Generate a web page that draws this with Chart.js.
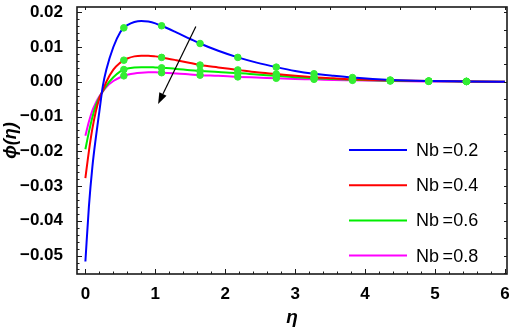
<!DOCTYPE html>
<html>
<head>
<meta charset="utf-8">
<script src="https://cdn.jsdelivr.net/npm/chart.js@4"></script>
<style>
  html, body { margin: 0; padding: 0; background: #fff; }
  #wrap { width: 512px; height: 329px; }
</style>
</head>
<body>
<div id="wrap"><canvas id="chart"></canvas></div>
<script>
// eta values shared by every curve
const etaValues = [0, 0.05, 0.1, 0.15, 0.2, 0.25, 0.3, 0.4, 0.5, 0.55, 0.6, 0.7, 0.8, 0.9, 1.0, 1.09,
    1.3, 1.5, 1.64, 1.9, 2.18, 2.45, 2.73, 3.0, 3.27, 3.55, 3.82, 4.36, 4.91, 5.45, 6.0];

// phi(eta) for each Nb value
const phiNb02 = [-0.0517, -0.036, -0.0245, -0.016, -0.0085, -0.0012, 0.0035, 0.0100, 0.0143, 0.0155, 0.0163,
    0.0172, 0.0175, 0.0173, 0.0168, 0.0161, 0.0142, 0.0123, 0.0110, 0.0089, 0.0070, 0.0055, 0.0042, 0.0031,
    0.0023, 0.0017, 0.0012, 0.0005, 0.0002, 0.0001, 0];
const phiNb04 = [-0.0277, -0.0200, -0.0135, -0.0085, -0.0048, -0.0025, 0.0000, 0.0035, 0.0055, 0.0062, 0.0067,
    0.0073, 0.0075, 0.0075, 0.0073, 0.0070, 0.0062, 0.0054, 0.0048, 0.0041, 0.0034, 0.0027, 0.0022, 0.0017,
    0.0013, 0.0010, 0.0007, 0.0004, 0.0002, 0.0001, 0];
const phiNb06 = [-0.0194, -0.0145, -0.0102, -0.0068, -0.0045, -0.0027, -0.0011, 0.0013, 0.0030, 0.0035, 0.0038,
    0.0041, 0.0042, 0.0042, 0.0041, 0.0040, 0.0037, 0.0033, 0.0031, 0.0028, 0.0025, 0.0021, 0.0017, 0.0013,
    0.0010, 0.0008, 0.0006, 0.0003, 0.0002, 0.0001, 0];
const phiNb08 = [-0.0155, -0.0115, -0.0083, -0.0060, -0.0042, -0.0028, -0.0015, 0.0002, 0.0013, 0.0017, 0.0020,
    0.0024, 0.0026, 0.0027, 0.0027, 0.0026, 0.0024, 0.0021, 0.0019, 0.0017, 0.0014, 0.0012, 0.0010, 0.0008,
    0.0007, 0.0005, 0.0004, 0.0002, 0.0001, 0.00005, 0];

const seriesLabels = ['Nb\u2009=0.2', 'Nb\u2009=0.4', 'Nb\u2009=0.6', 'Nb\u2009=0.8'];
const seriesColors = ['#0000ff', '#ff0000', '#00ee00', '#ff00ff'];

// eta positions of the green dots
const markerEta = [0.55, 1.09, 1.64, 2.18, 2.73, 3.27, 3.82, 4.36, 4.91, 5.45];

const xTicks = [0, 1, 2, 3, 4, 5, 6];
const yTicks = [-0.05, -0.04, -0.03, -0.02, -0.01, 0.00, 0.01, 0.02];

// arrow: from (eta, phi) to (eta, phi)
const arrowFrom = [1.58, 0.0159];
const arrowTo = [1.04, -0.0064];

const allPhi = [phiNb02, phiNb04, phiNb06, phiNb08];

const lineSets = allPhi.map((ys, i) => ({
    label: seriesLabels[i],
    data: etaValues.map((x, k) => ({ x: x, y: ys[k] })),
    borderColor: seriesColors[i],
    borderWidth: 2,
    pointRadius: 0,
    cubicInterpolationMode: 'monotone',
    order: 2
}));

const markerSets = allPhi.map(ys => ({
    label: 'marker',
    data: etaValues.map((x, k) => ({ x: x, y: ys[k] })).filter(p => markerEta.includes(p.x)),
    showLine: false,
    pointRadius: 3.3,
    pointBackgroundColor: '#33ee33',
    pointBorderColor: '#33ee33',
    pointBorderWidth: 1,
    order: 1
}));

const tickFont = { family: 'Liberation Sans, Arial, sans-serif', size: 17, weight: 'bold' };

// no extra room for half labels, the frame is fixed
function noPadding(s) {
    s.paddingLeft = 0; s.paddingRight = 0; s.paddingTop = 0; s.paddingBottom = 0;
}

// frame, inward ticks, arrow and legend
const decorations = {
    id: 'decorations',
    afterDraw(chart) {
        const ctx = chart.ctx;
        const sx = chart.scales.x, sy = chart.scales.y;
        const a = chart.chartArea;
        ctx.save();
        ctx.setLineDash([]);

        // frame
        ctx.strokeStyle = '#1a1a1a';
        ctx.lineWidth = 1.6;
        ctx.strokeRect(a.left, a.top, a.right - a.left, a.bottom - a.top);

        ctx.lineWidth = 1;
        ctx.beginPath();
        // bottom ticks
        for (let k = 0; k <= 30; k++) {
            const px = Math.round(sx.getPixelForValue(k * 0.2)) + 0.5;
            const len = k % 5 === 0 ? 5 : 2.5;
            ctx.moveTo(px, a.bottom); ctx.lineTo(px, a.bottom - len);
        }
        // top ticks
        for (let k = 0; k <= 12; k++) {
            const px = Math.round(sx.getPixelForValue(k * 0.5)) + 0.5;
            ctx.moveTo(px, a.top); ctx.lineTo(px, a.top + 3);
        }
        // left ticks
        for (let k = -27; k <= 10; k++) {
            const py = Math.round(sy.getPixelForValue(k * 0.002)) + 0.5;
            const len = k % 5 === 0 ? 5 : 2.5;
            ctx.moveTo(a.left, py); ctx.lineTo(a.left + len, py);
        }
        // right ticks
        for (let k = -11; k <= 4; k++) {
            const py = Math.round(sy.getPixelForValue(k * 0.005)) + 0.5;
            ctx.moveTo(a.right, py); ctx.lineTo(a.right - 3, py);
        }
        ctx.stroke();

        // arrow
        const x1 = sx.getPixelForValue(arrowFrom[0]), y1 = sy.getPixelForValue(arrowFrom[1]);
        const x2 = sx.getPixelForValue(arrowTo[0]), y2 = sy.getPixelForValue(arrowTo[1]);
        const ang = Math.atan2(y2 - y1, x2 - x1);
        const head = 11, half = 4;
        const bx = x2 - head * Math.cos(ang), by = y2 - head * Math.sin(ang);
        ctx.strokeStyle = '#000';
        ctx.fillStyle = '#000';
        ctx.lineWidth = 1.2;
        ctx.beginPath();
        ctx.moveTo(x1, y1); ctx.lineTo(bx, by);
        ctx.stroke();
        ctx.beginPath();
        ctx.moveTo(x2, y2);
        ctx.lineTo(bx + half * Math.sin(ang), by - half * Math.cos(ang));
        ctx.lineTo(bx - half * Math.sin(ang), by + half * Math.cos(ang));
        ctx.closePath();
        ctx.fill();

        // legend
        ctx.font = '18px "Liberation Sans", Arial, sans-serif';
        ctx.textBaseline = 'middle';
        ctx.textAlign = 'left';
        seriesLabels.forEach((lab, i) => {
            const y = 150 + i * 35.2;
            ctx.strokeStyle = seriesColors[i];
            ctx.lineWidth = 2;
            ctx.beginPath();
            ctx.moveTo(349, y); ctx.lineTo(407, y);
            ctx.stroke();
            ctx.fillStyle = '#000';
            ctx.fillText(lab, 416, y + 1);
        });
        ctx.restore();
    }
};

new Chart(document.getElementById('chart'), {
    type: 'scatter',
    data: { datasets: lineSets.concat(markerSets) },
    options: {
        responsive: true,
        maintainAspectRatio: false,
        animation: false,
        layout: { padding: { left: 0, top: 7, right: 3, bottom: 0 } },
        plugins: {
            legend: { display: false },
            tooltip: { enabled: false }
        },
        datasets: { scatter: { showLine: true } },
        scales: {
            x: {
                type: 'linear',
                min: -0.12,
                max: 6.03,
                afterBuildTicks: s => { s.ticks = xTicks.map(v => ({ value: v })); },
                afterFit: s => { s.height = 55; noPadding(s); },
                grid: { display: false },
                border: { display: false },
                ticks: { color: '#000', font: tickFont, padding: 2, maxRotation: 0,
                    callback: v => String(v) },
                title: {
                    display: true, text: '\u03b7', color: '#000',
                    font: { family: 'Liberation Sans, Arial, sans-serif', size: 19, weight: 'bold', style: 'italic' },
                    padding: { top: 0, bottom: 0 }
                }
            },
            y: {
                type: 'linear',
                min: -0.0553,
                max: 0.0215,
                afterBuildTicks: s => { s.ticks = yTicks.map(v => ({ value: v })); },
                afterFit: s => { s.width = 77; noPadding(s); },
                grid: { display: false },
                border: { display: false },
                ticks: { color: '#000', font: tickFont, padding: 6,
                    callback: v => (v < -1e-9 ? '\u2212' + Math.abs(v).toFixed(2) : Math.abs(v).toFixed(2)) },
                title: {
                    display: true, text: '\u03d5(\u03b7)', color: '#000',
                    font: { family: 'Liberation Sans, Arial, sans-serif', size: 18, weight: 'bold', style: 'italic' },
                    padding: { top: 0, bottom: 0 }
                }
            }
        }
    },
    plugins: [decorations]
});
</script>
</body>
</html>
